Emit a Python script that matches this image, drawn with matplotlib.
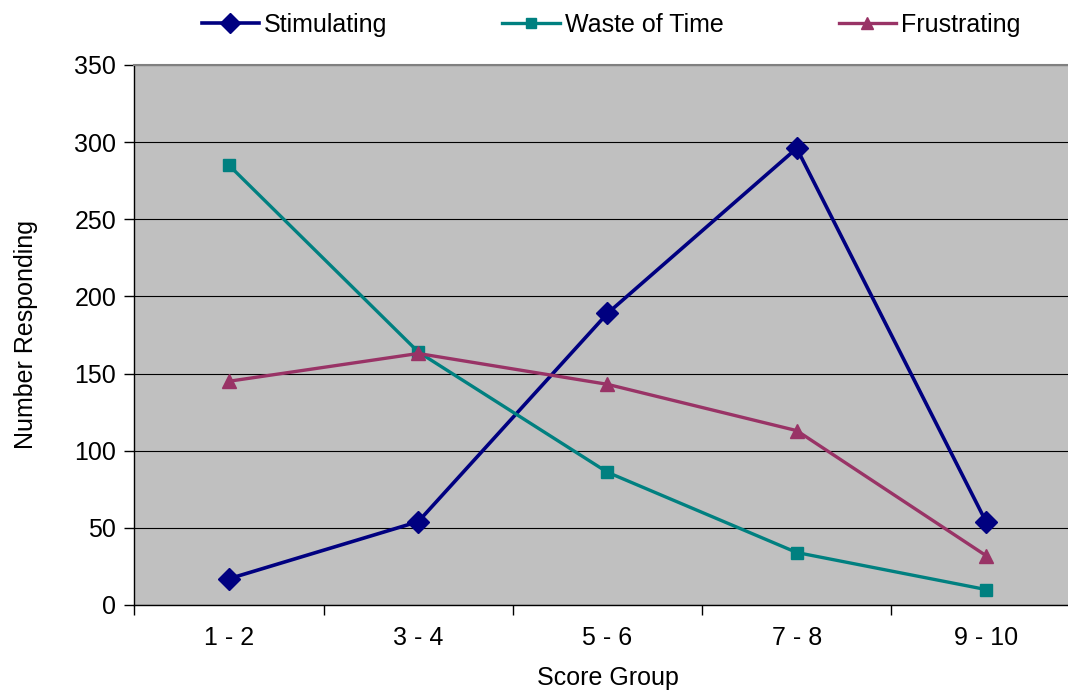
import matplotlib
matplotlib.use('Agg')
from matplotlib import pyplot as plt

# 数据
groups = ['1 - 2', '3 - 4', '5 - 6', '7 - 8', '9 - 10']
stimulating = [17, 54, 189, 296, 54]
waste_of_time = [285, 164, 86, 34, 10]
frustrating = [145, 163, 143, 113, 32]

plt.rcParams['font.family'] = ['Liberation Sans', 'DejaVu Sans']

fig = plt.figure(figsize=(10.68, 6.91), dpi=100)
ax = fig.add_axes([0.1258, 0.1245, 0.886, 0.7815])
ax.set_facecolor('#C0C0C0')

x = list(range(len(groups)))
ax.plot(x, stimulating, color='#000080', lw=2.6, marker='D', markersize=11,
        label='Stimulating', zorder=3)
ax.plot(x, waste_of_time, color='#008080', lw=2.4, marker='s', markersize=8,
        label='Waste of Time', zorder=3)
ax.plot(x, frustrating, color='#993366', lw=2.4, marker='^', markersize=9.5,
        label='Frustrating', zorder=3)

# 坐标轴
ax.set_xlim(-0.5, len(groups) - 0.5)
ax.set_ylim(0, 350)
ax.set_yticks(range(0, 351, 50))
ax.yaxis.grid(True, color='black', lw=0.8)
ax.set_axisbelow(True)

ax.set_xticks(x)
ax.set_xticklabels(groups)
ax.set_xticks([i + 0.5 for i in range(-1, len(groups))], minor=True)
ax.tick_params(axis='x', which='major', length=0, pad=15, labelsize=18)
ax.tick_params(axis='x', which='minor', length=7, width=1, direction='out')
ax.tick_params(axis='y', length=7, width=1, direction='out', labelsize=18, pad=6)

for s in ['top', 'right']:
    ax.spines[s].set_color('#808080')
    ax.spines[s].set_linewidth(1.5)
for s in ['left', 'bottom']:
    ax.spines[s].set_color('black')
    ax.spines[s].set_linewidth(1)

ax.set_xlabel('Score Group', fontsize=18, labelpad=12)
ax.set_ylabel('Number Responding', fontsize=18, labelpad=26)

fig.legend(loc='center', bbox_to_anchor=(611 / 1068, 1 - 25 / 691), ncol=3,
           frameon=False, fontsize=18, handlelength=2.3, handletextpad=0.2,
           columnspacing=4.6, markerscale=0.9)

plt.savefig('out.png', dpi=100)
